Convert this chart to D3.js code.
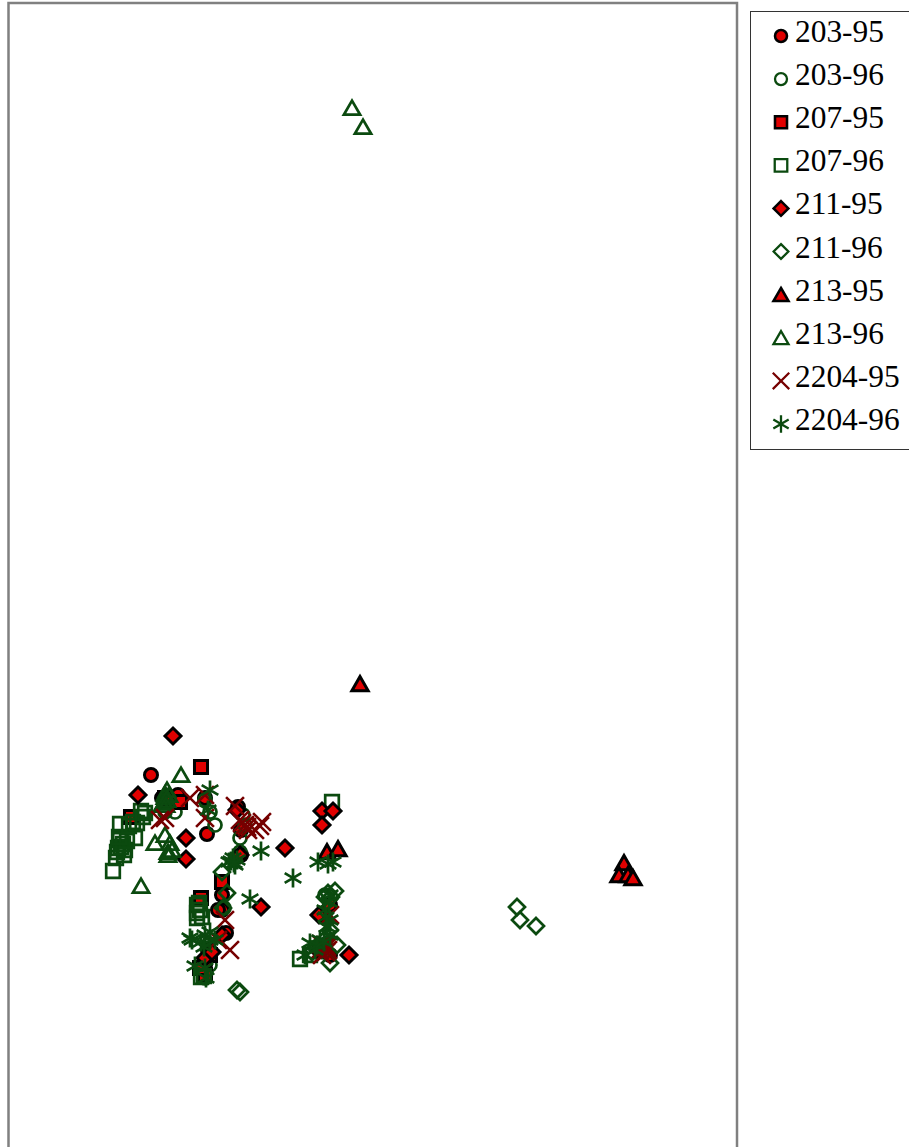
<!DOCTYPE html>
<html>
<head>
<meta charset="utf-8">
<script src="https://cdn.jsdelivr.net/npm/d3@7"></script>
<style>
html, body { margin: 0; padding: 0; background: #fff; overflow: hidden; }
svg { display: block; }
</style>
</head>
<body>
<div id="chart"></div>
<script>
// values, [x, y] in plot units
const s203_95 = [[1.42,3.72],[1.69,3.52],[1.53,3.49],[1.98,3.13],[1.96,3.49],[2.29,3.40],[2.32,3.17],[2.32,2.92],[2.13,2.52],[2.13,2.37],[2.09,2.37],[2.17,2.14],[1.99,1.97],[1.96,1.82],[3.21,2.42],[3.16,2.02],[3.21,1.92]]
const s203_96 = [[1.66,3.35],[1.56,3.35],[2.06,3.22],[1.96,3.47],[2.01,3.35],[2.34,3.32],[2.36,3.22],[2.31,3.09],[2.31,2.95],[2.15,2.39],[2.01,1.82],[1.96,1.69],[3.16,2.52]]
const s207_95 = [[1.92,3.80],[1.71,3.45],[1.56,3.49],[2.13,2.65],[1.92,2.49],[1.96,1.72],[1.91,1.79],[2.01,1.92],[1.22,3.30]]
const s207_96 = [[1.04,2.76],[1.07,2.89],[1.11,3.23],[1.15,2.92],[1.11,3.07],[1.09,2.99],[1.16,2.97],[1.26,3.09],[1.24,3.25],[1.32,3.36],[1.36,3.34],[1.88,2.42],[1.88,2.34],[1.88,2.29],[1.91,2.37],[1.92,1.70],[3.23,3.45],[2.91,1.88],[3.01,1.92],[1.08,2.95],[1.12,3.00],[1.14,3.03],[1.18,3.06],[1.10,3.10],[1.20,3.21],[1.28,3.24],[1.34,3.30],[1.90,2.44],[1.93,2.30],[1.95,1.71]]
const s211_95 = [[1.64,4.11],[1.29,3.52],[1.77,3.09],[1.77,2.88],[2.28,3.37],[2.76,2.99],[3.13,3.36],[3.24,3.36],[3.13,3.22],[2.52,2.40],[3.40,1.92],[3.10,2.32],[2.31,2.92],[1.96,1.89],[2.03,1.95],[2.13,2.12],[3.09,1.97]]
const s211_96 = [[5.08,2.40],[5.11,2.27],[5.27,2.21],[2.28,1.57],[2.31,1.55],[3.26,2.56],[3.16,2.50],[2.13,2.75],[2.18,2.54],[3.21,1.84],[3.28,2.02],[3.13,1.97],[2.14,2.39],[3.21,2.17],[3.22,2.50],[3.19,2.54],[3.03,1.95],[3.18,2.10]]
const s213_95 = [[3.51,4.61],[6.15,2.82],[6.10,2.70],[6.19,2.70],[6.24,2.67],[3.18,2.93],[3.29,2.96]]
const s213_96 = [[3.43,10.37],[3.54,10.18],[1.72,3.70],[1.32,2.59],[1.46,3.02],[1.58,3.55],[1.56,3.48],[1.53,3.40],[1.61,3.02],[1.59,2.93],[1.59,2.90],[1.63,2.95],[1.56,3.10],[1.56,3.51],[1.58,3.45],[1.55,3.43],[1.60,3.50],[1.57,3.40]]
const s2204_95 = [[1.51,3.27],[1.56,3.29],[1.81,3.49],[1.96,3.29],[2.26,3.41],[2.31,3.27],[2.36,3.22],[2.39,3.17],[2.53,3.25],[2.46,3.17],[2.51,3.21],[2.16,2.27],[2.21,1.97],[2.09,2.07],[3.13,1.92],[3.16,2.02],[3.19,1.97],[3.11,1.97],[3.21,2.32],[1.96,3.52],[3.14,1.98],[3.17,1.95],[3.12,2.03],[3.18,2.00],[2.33,3.24],[2.38,3.20]]
const s2204_96 = [[2.01,3.57],[1.99,3.37],[2.52,2.96],[2.20,2.85],[2.24,2.89],[2.28,2.87],[2.26,2.82],[3.09,2.85],[3.19,2.83],[3.24,2.85],[2.84,2.69],[2.41,2.48],[1.83,2.07],[1.81,2.09],[1.96,2.12],[2.01,2.15],[2.06,2.07],[1.86,1.81],[1.97,1.69],[1.96,1.79],[3.21,2.52],[3.16,2.37],[3.21,2.27],[3.01,2.04],[3.11,2.07],[3.06,1.97],[2.96,1.92],[3.21,2.12],[2.01,2.07],[1.92,2.05],[1.95,2.00],[3.08,2.02],[3.15,2.05],[3.17,2.30],[3.20,2.45],[3.18,2.20],[2.22,2.86],[2.25,2.84]]

const names = ['203-95','203-96','207-95','207-96','211-95','211-96','213-95','213-96','2204-95','2204-96']
const seriesValues = [s203_95,s203_96,s207_95,s207_96,s211_95,s211_96,s213_95,s213_96,s2204_95,s2204_96]

const width = 909
const height = 1147
const plot = { left: 9, right: 736, top: 2, bottom: 1147 }

const red = '#e00000'
const green = '#0b4a0f'
const darkRed = '#760000'

const x = d3.scaleLinear().domain([0, 7.27]).range([plot.left, plot.right])
const y = d3.scaleLinear().domain([0, 11.45]).range([plot.bottom, plot.top])

const svg = d3.select('#chart').append('svg')
    .attr('width', width)
    .attr('height', height)

// diamond as a rotated square
const diamond = {
    draw(ctx, size) {
        const r = Math.sqrt(size / 2)
        ctx.moveTo(0, -r); ctx.lineTo(r, 0); ctx.lineTo(0, r); ctx.lineTo(-r, 0); ctx.closePath()
    }
}

const styles = [
    { type: d3.symbolCircle, size: 133, fill: red, stroke: '#000', sw: 3 },
    { type: d3.symbolCircle, size: 133, fill: 'none', stroke: green, sw: 2.7 },
    { type: d3.symbolSquare, size: 170, fill: red, stroke: '#000', sw: 3 },
    { type: d3.symbolSquare, size: 185, fill: 'none', stroke: green, sw: 2.7 },
    { type: diamond, size: 128, fill: red, stroke: '#000', sw: 3 },
    { type: diamond, size: 128, fill: 'none', stroke: green, sw: 2.7 },
    { type: d3.symbolTriangle, size: 115, fill: red, stroke: '#000', sw: 3 },
    { type: d3.symbolTriangle, size: 115, fill: 'none', stroke: green, sw: 2.7 },
    { type: d3.symbolTimes, size: 210, fill: 'none', stroke: darkRed, sw: 2.6 },
    { type: d3.symbolAsterisk, size: 260, fill: 'none', stroke: green, sw: 2.7 },
]

// plot frame, bottom edge runs off the page
svg.append('rect')
    .attr('x', plot.left - 0.5)
    .attr('y', plot.top + 1)
    .attr('width', plot.right - plot.left + 1.5)
    .attr('height', plot.bottom)
    .attr('fill', 'none')
    .attr('stroke', '#808080')
    .attr('stroke-width', 2.5)

svg.append('g')
    .selectAll('g')
    .data(seriesValues)
    .join('g')
    .each(function (vals, i) {
        const st = styles[i]
        d3.select(this).selectAll('path')
            .data(vals)
            .join('path')
            .attr('d', d3.symbol().type(st.type).size(st.size))
            .attr('transform', d => `translate(${x(d[0])},${y(d[1])})`)
            .attr('fill', st.fill)
            .attr('stroke', st.stroke)
            .attr('stroke-width', st.sw)
    })

/* Legend */
svg.append('rect')
    .attr('x', 750.5)
    .attr('y', 11.5)
    .attr('width', 170)
    .attr('height', 438)
    .attr('fill', '#fff')
    .attr('stroke', '#333')
    .attr('stroke-width', 1)

const legendY = d3.scalePoint().domain(names).range([36, 424])

const legend = svg.append('g')
    .selectAll('g')
    .data(names)
    .join('g')
    .attr('transform', d => `translate(0,${legendY(d)})`)

legend.append('path')
    .attr('transform', (d, i) => `translate(781,${i === 6 || i === 7 ? 2 : 0})`)
    .attr('d', (d, i) => d3.symbol().type(styles[i].type).size(styles[i].size * 0.85)())
    .attr('fill', (d, i) => styles[i].fill)
    .attr('stroke', (d, i) => styles[i].stroke)
    .attr('stroke-width', (d, i) => styles[i].sw * 0.85)

legend.append('text')
    .attr('x', 795)
    .attr('y', 6)
    .attr('font-family', '"Liberation Serif", serif')
    .attr('font-size', 31.4)
    .attr('fill', '#000')
    .text(d => d)
</script>
</body>
</html>
